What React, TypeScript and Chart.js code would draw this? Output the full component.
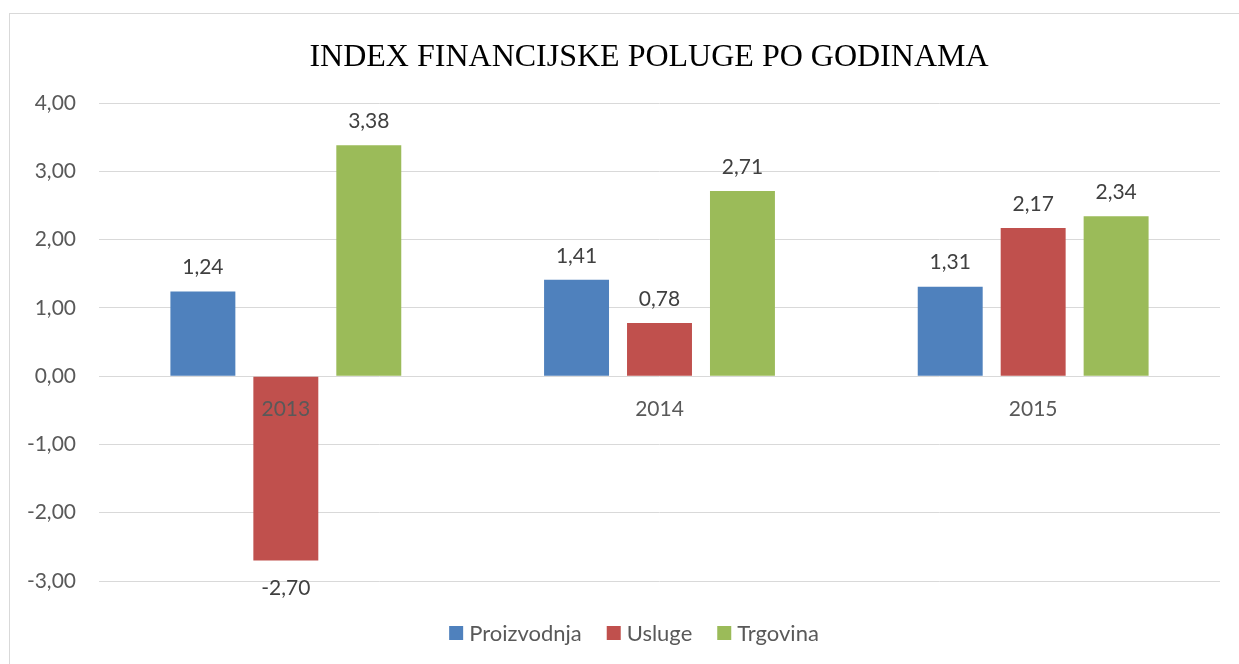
import React, { useEffect, useRef } from "react";
import { Chart, registerables } from "chart.js";

Chart.register(...registerables);

const categories = ["2013", "2014", "2015"];
const seriesNames = ["Proizvodnja", "Usluge", "Trgovina"];
const proizvodnja = [1.24, 1.41, 1.31];
const usluge = [-2.7, 0.78, 2.17];
const trgovina = [3.38, 2.71, 2.34];
const seriesColors = ["#4F81BD", "#C0504D", "#9BBB59"];
const yMin = -3;
const yMax = 4;
const titleText = "INDEX FINANCIJSKE POLUGE PO GODINAMA";

const FONT = "Lato";
const fmt = (v: number) => v.toFixed(2).replace(".", ",");

const overlayPlugin = {
  id: "overlay",
  afterDatasetsDraw(chart: any) {
    const ctx = chart.ctx;
    ctx.save();
    ctx.font = `21px ${FONT}`;
    ctx.fillStyle = "#404040";
    ctx.textAlign = "center";
    ctx.textBaseline = "middle";
    chart.data.datasets.forEach((ds: any, i: number) => {
      const meta = chart.getDatasetMeta(i);
      meta.data.forEach((el: any, j: number) => {
        const v = ds.data[j] as number;
        const y = v >= 0 ? el.y - 24 : el.y + 28;
        ctx.fillText(fmt(v), el.x, y);
      });
    });
    ctx.restore();
  },
  afterDraw(chart: any) {
    const ctx = chart.ctx;
    ctx.save();
    // title
    ctx.font = `32px 'Liberation Serif'`;
    ctx.fillStyle = "#000000";
    ctx.textAlign = "center";
    ctx.textBaseline = "middle";
    ctx.fillText(titleText, 639, 44);
    // legend
    ctx.font = `22px ${FONT}`;
    const box = 14;
    const gapText = 6;
    const gapItem = 25;
    const widths = seriesNames.map((n) => ctx.measureText(n).width);
    const total =
      widths.reduce((a, b) => a + b, 0) +
      seriesNames.length * (box + gapText) +
      (seriesNames.length - 1) * gapItem;
    let x = 624 - total / 2;
    const cy = 619;
    ctx.textAlign = "left";
    seriesNames.forEach((n, i) => {
      ctx.fillStyle = seriesColors[i];
      ctx.fillRect(x, cy - box / 2, box, box);
      x += box + gapText;
      ctx.fillStyle = "#595959";
      ctx.fillText(n, x, cy + 1);
      x += widths[i] + gapItem;
    });
    ctx.restore();
  },
};

export default function App() {
  const ref = useRef<HTMLCanvasElement>(null);
  useEffect(() => {
    if (!ref.current) return;
    const values = [proizvodnja, usluge, trgovina];
    const chart = new Chart(ref.current, {
      type: "bar",
      data: {
        labels: categories,
        datasets: seriesNames.map((n, i) => ({
          label: n,
          data: values[i],
          backgroundColor: seriesColors[i],
          borderWidth: 0,
          categoryPercentage: 0.666,
          barPercentage: 0.783,
        })),
      },
      options: {
        responsive: false,
        animation: false,
        devicePixelRatio: 1,
        layout: { padding: { left: 0, right: 19, top: 89, bottom: 83 } },
        plugins: {
          legend: { display: false },
          title: { display: false },
          tooltip: { enabled: false },
        },
        scales: {
          x: {
            type: "category",
            axis: "x",
            position: { y: 0 } as any,
            grid: { display: false },
            border: { display: false },
            ticks: {
              z: 1,
              padding: 12,
              color: "#595959",
              font: { family: FONT, size: 21 },
            } as any,
          },
          y: {
            min: yMin,
            max: yMax,
            afterFit: (s: any) => {
              s.width = 89;
            },
            grid: { color: "#D9D9D9", lineWidth: 1, drawTicks: false },
            border: { display: false },
            ticks: {
              stepSize: 1,
              padding: 23,
              color: "#595959",
              font: { family: FONT, size: 21 },
              callback: (v: any) => fmt(Number(v)),
            },
          },
        },
      },
      plugins: [overlayPlugin],
    });
    return () => chart.destroy();
  }, []);
  return (
    <div
      style={{
        position: "fixed",
        left: 9,
        top: 13,
        width: 1240,
        height: 660,
        borderTop: "1px solid #D9D9D9",
        borderLeft: "1px solid #D9D9D9",
        background: "#fff",
      }}
    >
      <canvas ref={ref} width={1229} height={650} style={{ display: "block" }} />
    </div>
  );
}
